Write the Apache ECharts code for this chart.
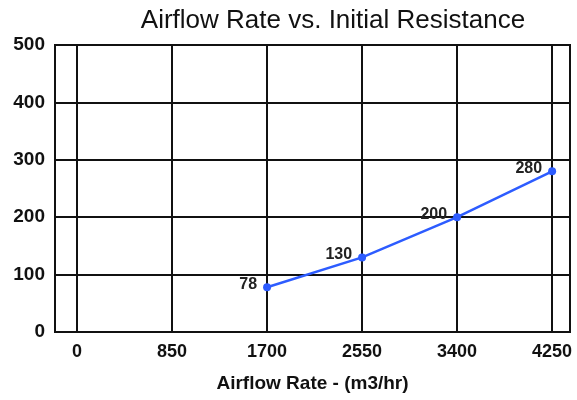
<!DOCTYPE html>
<html><head><meta charset="utf-8">
<script src="https://cdn.jsdelivr.net/npm/echarts@6/dist/echarts.min.js"></script>
<style>html,body{margin:0;padding:0;background:#fff}#c{width:577px;height:400px}</style>
</head><body><div id="c"></div>
<script>
var xTicks = [0, 850, 1700, 2550, 3400, 4250];
var airflow = [1700, 2550, 3400, 4250];
var resistance = [78, 130, 200, 280];
var FONT = '"Liberation Sans", Arial, sans-serif';
var chart = echarts.init(document.getElementById('c'));
chart.setOption({
  animation: false,
  title: {
    text: 'Airflow Rate vs. Initial Resistance',
    left: 328, top: 3, textAlign: 'center',
    textStyle: {fontFamily: FONT, fontSize: 26, fontWeight: 'normal', color: '#111'}
  },
  grid: {left: 55, right: 7, top: 45, bottom: 68, show: true, borderColor: '#111', borderWidth: 2},
  xAxis: {
    type: 'value', min: -197, max: 4410,
    name: 'Airflow Rate - (m3/hr)', nameLocation: 'middle', nameGap: 42,
    nameTextStyle: {fontFamily: FONT, fontSize: 19, fontWeight: 'bold', color: '#111'},
    axisLine: {show: false},
    axisTick: {show: true, customValues: xTicks, length: 0},
    axisLabel: {customValues: xTicks, fontFamily: FONT, fontSize: 18, fontWeight: 'bold', color: '#111', margin: 11,
      formatter: function (v) { return String(v); }},
    splitLine: {show: true, lineStyle: {color: '#111', width: 2}}
  },
  yAxis: {
    type: 'value', min: 0, max: 500, interval: 100,
    axisLine: {show: false}, axisTick: {show: false},
    axisLabel: {fontFamily: FONT, fontSize: 19, fontWeight: 'bold', color: '#111', margin: 10},
    splitLine: {show: true, lineStyle: {color: '#111', width: 2}}
  },
  series: [{
    type: 'line',
    data: airflow.map(function (x, i) { return [x, resistance[i]]; }),
    symbol: 'circle', symbolSize: 8,
    lineStyle: {color: '#2d5cff', width: 2.5},
    itemStyle: {color: '#2d5cff'},
    label: {show: true, position: 'left', distance: 6, offset: [0, -3],
      fontFamily: FONT, fontSize: 16, fontWeight: 'bold', color: '#222',
      formatter: function (p) { return p.value[1]; }}
  }]
});
</script></body></html>
